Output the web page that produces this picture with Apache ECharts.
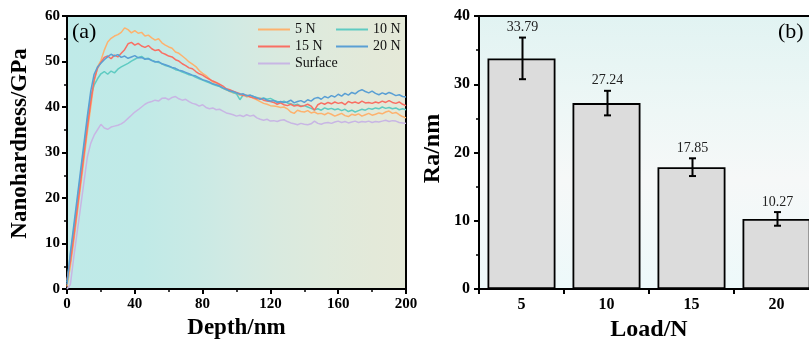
<!DOCTYPE html>
<html>
<head>
<meta charset="utf-8">
<script src="https://cdn.jsdelivr.net/npm/echarts@6/dist/echarts.min.js"></script>
<style>
  html, body { margin: 0; padding: 0; background: #fff; overflow: hidden; }
  #chart { width: 830px; height: 340px; }
</style>
</head>
<body>
<div id="chart"></div>
<script>
// Depth (nm) sampling points for the nanoindentation curves
const depth = [0,2,4,6,8,10,12,14,16,18,20,22,24,26,28,30,32,34,36,38,40,42,44,46,48,50,52,54,56,58,60,62,64,66,68,70,72,74,76,78,80,82,84,86,88,90,92,94,96,98,100,102,104,106,108,110,112,114,116,118,120,122,124,126,128,130,132,134,136,138,140,142,144,146,148,150,152,154,156,158,160,162,164,166,168,170,172,174,176,178,180,182,184,186,188,190,192,194,196,198,200];

// Nanohardness (GPa) for each scratch load and the unscratched surface
const hard5N = [0.5,5,10.5,16.5,22.5,28.5,34.5,40,45.5,48.8,50.2,52.5,54.3,55.1,55.6,55.9,56.4,57.4,57.0,56.3,56.8,56.2,56.4,55.6,55.8,55.2,54.7,55.0,54.1,53.6,53.2,52.9,52.1,51.8,51.2,50.6,49.9,49.4,48.9,48.0,47.4,46.9,46.2,45.5,45.3,44.7,44.1,43.8,43.4,43.1,42.9,42.6,42.7,42.2,42.4,41.9,41.6,41.2,40.8,40.6,40.3,40.2,40.1,39.9,40.0,39.6,38.9,38.6,39.3,39.0,38.9,39.2,38.7,38.9,38.5,38.6,38.3,38.7,38.4,38.0,38.3,38.6,38.1,37.9,38.4,38.2,38.5,38.0,38.3,38.6,38.2,38.4,38.7,38.5,38.9,39.1,38.6,38.8,38.3,37.9,37.6];
const hard10N = [1.5,7.5,13,19,25,31,37,42.5,44.8,46.2,47.3,47.8,47.2,47.9,47.5,48.3,48.8,49.2,49.6,50.1,50.5,50.9,51.1,50.6,50.7,50.3,50.0,49.8,49.5,49.1,48.9,48.6,48.2,48.0,47.7,47.4,47.1,46.9,46.5,46.2,45.9,45.6,45.3,45.0,44.7,44.5,44.1,43.8,43.5,43.2,42.9,41.6,42.7,42.4,42.6,42.3,42.1,41.8,42.0,41.7,41.9,41.5,41.2,41.0,41.3,40.9,40.7,40.4,40.6,40.2,40.3,40.0,39.7,39.4,39.6,39.3,39.8,39.5,39.7,39.4,39.6,39.2,39.5,39.0,39.3,38.9,39.2,39.5,39.3,39.7,39.5,39.8,39.6,40.0,39.7,39.9,39.6,39.8,39.4,39.6,39.4];
const hard15N = [2,6,11.5,17.5,23.5,29.5,35.5,41,46,48.5,49.8,50.9,51.2,50.6,51.4,51.0,51.8,52.6,53.9,54.2,53.6,54.0,53.4,53.1,53.5,52.8,52.4,52.6,51.9,51.6,51.2,51.0,50.4,50.1,49.5,49.1,48.6,48.4,47.8,47.3,47.0,46.5,46.1,45.7,45.4,45.0,44.6,44.0,43.8,43.5,43.2,42.9,42.5,42.6,42.2,42.0,41.8,41.9,41.5,41.3,41.2,41.0,40.6,40.9,40.5,40.3,40.6,40.2,40.4,40.1,40.3,40.6,40.2,39.3,40.5,40.9,40.6,41.0,40.7,41.1,40.8,41.0,40.5,41.2,40.9,41.1,40.8,41.3,40.9,41.0,40.8,41.1,40.9,41.3,41.0,41.4,41.0,40.8,41.1,40.6,40.3];
const hard20N = [1,8,14,20,26,32,38,43.5,47.2,48.8,49.6,50.4,51.0,51.6,51.2,51.5,50.9,51.2,50.7,51.0,51.3,50.8,50.9,50.5,50.6,50.2,49.9,50.0,49.5,49.3,49.0,48.7,48.5,48.1,47.9,47.6,47.3,47.0,46.8,46.4,46.0,45.8,45.5,45.1,44.9,44.6,44.2,43.9,43.5,43.4,43.1,42.8,42.9,42.5,42.6,42.3,42.0,41.7,41.9,41.5,41.3,41.4,41.0,41.2,41.0,41.1,41.5,40.9,41.2,41.4,41.0,41.6,41.3,41.9,42.1,41.7,42.3,42.0,42.5,42.2,42.8,42.4,43.0,42.6,43.2,42.9,43.5,43.8,43.4,43.1,43.5,43.0,42.7,43.1,42.8,43.2,42.9,42.5,42.7,42.3,42.2];
const hardSurface = [0,1,7,12.5,18,23.5,29,32,33.8,35.0,36.2,35.4,35.1,35.6,35.8,36.0,36.3,36.8,37.5,38.2,38.9,39.4,40.0,40.6,41.0,41.2,41.5,41.3,41.9,42.0,41.6,42.1,42.3,41.8,41.5,41.7,41.2,40.8,40.6,40.2,40.5,39.9,39.6,39.8,39.4,39.5,39.1,38.7,38.5,38.3,38.0,38.2,37.9,38.3,38.0,38.2,37.6,37.3,37.1,37.3,36.9,37.0,36.8,37.1,37.2,36.8,36.5,36.3,36.1,36.4,36.2,36.1,36.3,36.9,36.4,36.2,36.5,36.6,36.4,36.7,36.9,36.6,36.8,36.5,36.7,36.9,36.6,36.8,36.7,36.9,36.6,36.8,36.7,36.9,37.1,36.8,37.0,36.9,36.6,36.5,36.4];

// Surface roughness vs. scratch load
const loads = ['5', '10', '15', '20'];
const raMean = [33.79, 27.24, 17.85, 10.27];
const raErr = [3.05, 1.8, 1.3, 1.0];

const SERIF = '"Liberation Serif", "Times New Roman", serif';
const pair = vals => depth.map((d, i) => [d, vals[i]]);

const lineColors = {
  '5 N': '#FDB26E',
  '10 N': '#5FCBC2',
  '15 N': '#F96F63',
  '20 N': '#5A9FD4',
  'Surface': '#C8B6E4'
};

function lineSeries(name, vals) {
  return {
    name: name,
    type: 'line',
    xAxisIndex: 0,
    yAxisIndex: 0,
    data: pair(vals),
    showSymbol: false,
    symbol: 'none',
    lineStyle: { width: 1.5, color: lineColors[name] },
    itemStyle: { color: lineColors[name] },
    z: 3
  };
}

const axisCommon = {
  axisLine: { show: true, onZero: false, lineStyle: { color: '#000', width: 2 } },
  axisTick: { show: true, inside: false, length: 5, lineStyle: { color: '#000', width: 2 } },
  minorTick: { show: true, splitNumber: 2, length: 3, lineStyle: { color: '#000', width: 1.5 } },
  splitLine: { show: false },
  axisLabel: { color: '#000', fontFamily: SERIF, fontWeight: 'bold', fontSize: 15 },
  nameTextStyle: { color: '#000', fontFamily: SERIF, fontWeight: 'bold', fontSize: 23 }
};

const legendText = { fontFamily: SERIF, fontSize: 14, color: '#111', lineHeight: 17 };

const chart = echarts.init(document.getElementById('chart'), null, { renderer: 'canvas' });

chart.setOption({
  animation: false,
  backgroundColor: '#ffffff',
  grid: [
    {
      left: 67, top: 16, width: 339, height: 273,
      containLabel: false, outerBoundsMode: 'none',
      show: true, borderColor: '#000', borderWidth: 2,
      backgroundColor: {
        type: 'linear', x: 0, y: 0, x2: 1, y2: 0,
        colorStops: [
          { offset: 0, color: '#bfeae8' },
          { offset: 0.22, color: '#c0eae7' },
          { offset: 0.38, color: '#c9eae5' },
          { offset: 0.5, color: '#d2eae3' },
          { offset: 0.62, color: '#d9eadf' },
          { offset: 0.76, color: '#dfeadc' },
          { offset: 0.9, color: '#e3e9d9' },
          { offset: 1, color: '#e5e9d8' }
        ]
      }
    },
    {
      left: 479, top: 16, width: 340, height: 273,
      containLabel: false, outerBoundsMode: 'none',
      show: true, borderColor: '#000', borderWidth: 2,
      backgroundColor: {
        type: 'linear', x: 0, y: 0, x2: 0, y2: 1,
        colorStops: [
          { offset: 0, color: '#e1f3f2' },
          { offset: 0.35, color: '#eef7f6' },
          { offset: 0.6, color: '#f6f8f8' },
          { offset: 1, color: '#edf9fa' }
        ]
      }
    }
  ],
  xAxis: [
    Object.assign({}, axisCommon, {
      gridIndex: 0, type: 'value', min: 0, max: 200, interval: 40,
      name: 'Depth/nm', nameLocation: 'middle', nameGap: 27,
      axisLabel: Object.assign({}, axisCommon.axisLabel, { margin: 8 })
    }),
    Object.assign({}, axisCommon, {
      gridIndex: 1, type: 'category', data: loads,
      name: 'Load/N', nameLocation: 'middle', nameGap: 27,
      nameTextStyle: Object.assign({}, axisCommon.nameTextStyle, { fontSize: 24 }),
      axisTick: Object.assign({}, axisCommon.axisTick, { alignWithLabel: false }),
      minorTick: { show: false },
      axisLabel: Object.assign({}, axisCommon.axisLabel, { margin: 8, fontSize: 16 })
    })
  ],
  yAxis: [
    Object.assign({}, axisCommon, {
      gridIndex: 0, type: 'value', min: 0, max: 60, interval: 10,
      name: 'Nanohardness/GPa', nameLocation: 'middle', nameGap: 35,
      nameTextStyle: Object.assign({}, axisCommon.nameTextStyle, { padding: [0, 0, 0, 18] }),
      axisLabel: Object.assign({}, axisCommon.axisLabel, { margin: 7 })
    }),
    Object.assign({}, axisCommon, {
      gridIndex: 1, type: 'value', min: 0, max: 40, interval: 10,
      name: 'Ra/nm', nameLocation: 'middle', nameGap: 34,
      nameTextStyle: Object.assign({}, axisCommon.nameTextStyle, { fontSize: 24, padding: [0, 0, 0, 8] }),
      axisLabel: Object.assign({}, axisCommon.axisLabel, { margin: 9, fontSize: 16 })
    })
  ],
  legend: [
    {
      data: ['5 N', '15 N', 'Surface'],
      orient: 'vertical', left: 258, top: 21, padding: 0,
      icon: 'rect', itemWidth: 32, itemHeight: 2, itemGap: 0,
      textStyle: legendText,
      selectedMode: false
    },
    {
      data: ['10 N', '20 N'],
      orient: 'vertical', left: 336, top: 21, padding: 0,
      icon: 'rect', itemWidth: 32, itemHeight: 2, itemGap: 0,
      textStyle: legendText,
      selectedMode: false
    }
  ],
  graphic: [
    {
      type: 'text', left: 72, top: 21,
      style: { text: '(a)', font: '22px ' + SERIF, fill: '#000' }
    },
    {
      type: 'text', left: 778, top: 21,
      style: { text: '(b)', font: '22px ' + SERIF, fill: '#000' }
    }
  ],
  series: [
    lineSeries('Surface', hardSurface),
    lineSeries('5 N', hard5N),
    lineSeries('10 N', hard10N),
    lineSeries('15 N', hard15N),
    lineSeries('20 N', hard20N),
    {
      name: 'Ra',
      type: 'bar',
      xAxisIndex: 1,
      yAxisIndex: 1,
      data: raMean,
      barCategoryGap: '20%',
      itemStyle: { color: '#dcdcdc', borderColor: '#000', borderWidth: 1.8 },
      z: 2
    },
    {
      name: 'Ra error',
      type: 'custom',
      xAxisIndex: 1,
      yAxisIndex: 1,
      data: raMean.map((m, i) => [i, m - raErr[i], m + raErr[i], m]),
      z: 4,
      renderItem: function (params, api) {
        const lo = api.coord([api.value(0), api.value(1)]);
        const hi = api.coord([api.value(0), api.value(2)]);
        const x = Math.round(lo[0]) + 0.5;
        const cap = 3.5;
        const st = { stroke: '#000', lineWidth: 2 };
        return {
          type: 'group',
          children: [
            { type: 'line', shape: { x1: x, y1: lo[1], x2: x, y2: hi[1] }, style: st },
            { type: 'line', shape: { x1: x - cap, y1: lo[1], x2: x + cap, y2: lo[1] }, style: st },
            { type: 'line', shape: { x1: x - cap, y1: hi[1], x2: x + cap, y2: hi[1] }, style: st },
            {
              type: 'text',
              x: x, y: hi[1] - 3,
              style: {
                text: api.value(3).toFixed(2),
                font: '14px ' + SERIF,
                fill: '#222',
                align: 'center',
                verticalAlign: 'bottom'
              }
            }
          ]
        };
      }
    }
  ]
});
</script>
</body>
</html>
